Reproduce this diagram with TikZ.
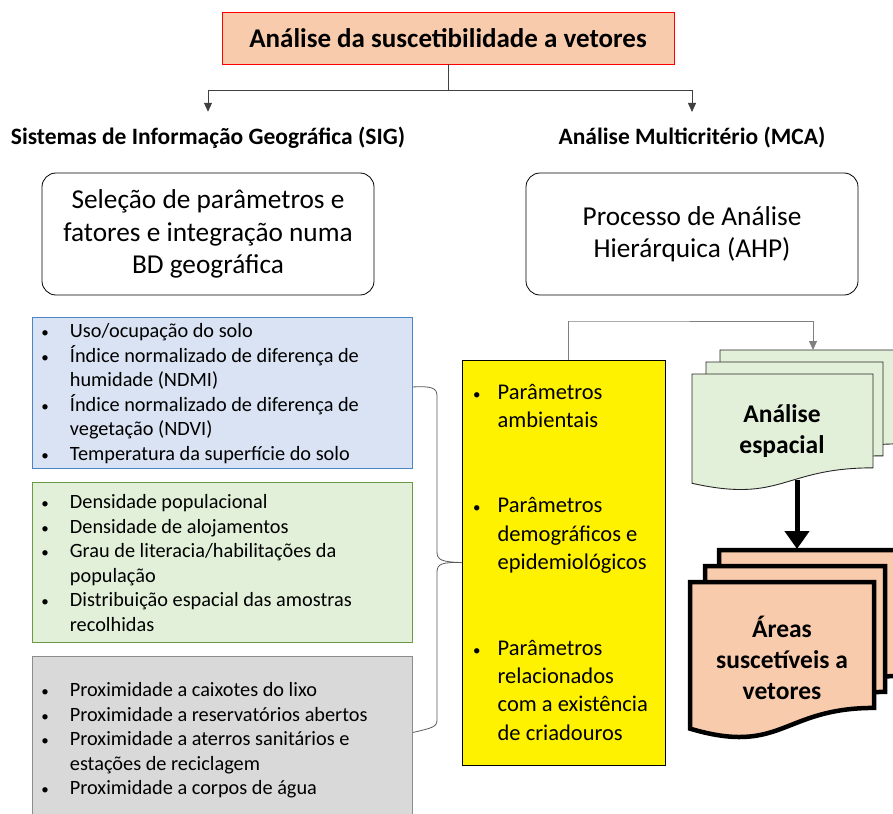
\documentclass[tikz,border=0pt]{standalone}
\usepackage{fontspec}
\setmainfont{Carlito}
\usepackage{xcolor}
\usepackage{tikz}
\usetikzlibrary{arrows.meta,positioning,calc}

\definecolor{peach}{HTML}{F8CBAD}
\definecolor{bluefill}{HTML}{DAE3F3}
\definecolor{blueline}{HTML}{4A86C6}
\definecolor{greenfill}{HTML}{E2F0D9}
\definecolor{greenline}{HTML}{6A9A45}
\definecolor{grayfill}{HTML}{D9D9D9}
\definecolor{grayline}{HTML}{8C8C8C}

% small list bullet
\newcommand{\bul}{{\fontsize{15}{15}\selectfont\textbullet}}

% document sheet (Office style): #1 style, #2 x, #3 y, #4 width, #5 height
\newcommand{\docsheet}[5]{%
  \filldraw[#1] (#2,#3) -- ++(#4,0) -- ++(0,{0.802*#5})
    .. controls ({#2+0.5*#4},{#3+0.802*#5}) and ({#2+0.5*#4},{#3+1.1075*#5})
    .. (#2,{#3+0.934*#5}) -- cycle;}

\begin{document}
\begin{tikzpicture}[
  x=1pt, y=-1pt,
  title/.style  = {rectangle, draw=red, fill=peach, line width=0.8pt,
                   minimum width=452pt, minimum height=52pt,
                   font=\fontsize{27}{30}\selectfont\bfseries},
  head/.style   = {font=\fontsize{23.5}{27}\selectfont\bfseries},
  rbox/.style   = {rectangle, rounded corners=14pt, draw=black, line width=0.8pt,
                   minimum width=332pt, minimum height=122pt, align=center,
                   font=\fontsize{27.3}{32.5}\selectfont},
  list/.style   = {rectangle, line width=0.9pt, minimum width=380pt,
                   anchor=north west, inner sep=0pt,
                   font=\fontsize{20.3}{24.5}\selectfont},
  ybox/.style   = {rectangle, draw=black, fill=yellow, line width=0.9pt,
                   minimum width=203pt, minimum height=405pt},
  ylist/.style  = {anchor=north west, inner sep=0pt, align=left,
                   font=\fontsize{22.5}{28.4}\selectfont},
  doctext/.style= {align=center, font=\fontsize{25.5}{31}\selectfont\bfseries},
  conn/.style   = {draw=black!75, line width=0.8pt},
  arr/.style    = {conn, -{Triangle[length=9pt,width=8pt]}},
  bigarr/.style = {draw=black, line width=5pt, -{Triangle[length=18pt,width=24pt]}}
]
\clip (0,0) rectangle (893,813);
\useasboundingbox (0,0) rectangle (893,813);

%% Title and branches
\node[title] (title) at (448,38) {Análise da suscetibilidade a vetores};
\node[head] (sig) at (208,138) {Sistemas de Informação Geográfica (SIG)};
\node[head] (mca) at (692,138) {Análise Multicritério (MCA)};
\coordinate (split) at (448,90);

\draw[conn] (title.south) -- (split);
\draw[arr] (split) -| ($(sig.north)+(0,-12)$);
\draw[arr] (split) -| ($(mca.north)+(0,-12)$);

%% Method boxes
\node[rbox] (selecao) at (208,234) {Seleção de parâmetros e\\fatores e integração numa\\BD geográfica};
\node[rbox] (ahp)     at (692,234) {Processo de Análise\\Hierárquica (AHP)};

%% Parameter lists
\node[list, draw=blueline, fill=bluefill, minimum height=151pt] (ambient) at (32,317) {};
\node[list, draw=greenline, fill=greenfill, minimum height=160pt] (demog) at (32,482) {};
\node[list, draw=grayline, fill=grayfill, minimum height=170pt] (criad) at (32,656) {};

\node[list, minimum width=0pt] (ambtxt) at (41,320) {%
  \begin{tabular}{@{}l@{\hspace{21pt}}l@{}}
  \bul & Uso/ocupação do solo\\
  \bul & Índice normalizado de diferença de\\
       & humidade (NDMI)\\
  \bul & Índice normalizado de diferença de\\
       & vegetação (NDVI)\\
  \bul & Temperatura da superfície do solo
  \end{tabular}};
\node[list, minimum width=0pt] (demtxt) at (41,491) {%
  \begin{tabular}{@{}l@{\hspace{21pt}}l@{}}
  \bul & Densidade populacional\\
  \bul & Densidade de alojamentos\\
  \bul & Grau de literacia/habilitações da\\
       & população\\
  \bul & Distribuição espacial das amostras\\
       & recolhidas
  \end{tabular}};
\node[list, minimum width=0pt] (critxt) at (41,679) {%
  \begin{tabular}{@{}l@{\hspace{21pt}}l@{}}
  \bul & Proximidade a caixotes do lixo\\
  \bul & Proximidade a reservatórios abertos\\
  \bul & Proximidade a aterros sanitários e\\
       & estações de reciclagem\\
  \bul & Proximidade a corpos de água
  \end{tabular}};

%% Parameter groups
\node[ybox] (grupos) at (563.5,562.5) {};
\node[ylist] (grptxt) at (473,379) {%
  \begin{tabular}{@{}l@{\hspace{17pt}}l@{}}
  \bul & Parâmetros\\
       & ambientais\\[57pt]
  \bul & Parâmetros\\
       & demográficos e\\
       & epidemiológicos\\[57pt]
  \bul & Parâmetros\\
       & relacionados\\
       & com a existência\\
       & de criadouros
  \end{tabular}};

%% Brace joining the lists
\draw[conn, draw=black!65] ($(ambient.east)+(0,-6)$) .. controls (432,386) and (437,388) .. (437,396)
  -- (437,552) .. controls (437,560) and (442,562) .. (grupos.west);
\draw[conn, draw=black!65] (grupos.west) .. controls (442,562) and (437,564) .. (437,572)
  -- (437,720) .. controls (437,727) and (432,728) .. ($(criad.east)+(0,-9)$);

%% Spatial analysis sheets
\docsheet{fill=greenfill, draw=black!85, line width=0.9pt}{720}{350}{181}{117}
\docsheet{fill=greenfill, draw=black!85, line width=0.9pt}{706}{362}{177}{117}
\docsheet{fill=greenfill, draw=black!85, line width=0.9pt}{692}{374}{181}{117}
\node[doctext] (espacial) at (782,431) {Análise\\espacial};
\coordinate (espin) at (813,350);
\coordinate (espout) at (797,480);

%% Result sheets
\docsheet{fill=peach, draw=black, line width=4.5pt}{719}{550}{183}{157}
\docsheet{fill=peach, draw=black, line width=4.5pt}{705}{566}{180}{157}
\docsheet{fill=peach, draw=black, line width=4.5pt}{690}{582}{184}{157}
\node[doctext] (areas) at (782,658) {Áreas\\suscetíveis a\\vetores};
\coordinate (areasin) at (797,549);

%% Connectors on the right
\draw[arr, draw=black!50] (grupos.north) ++(5,0) |- (568,321) -| (espin);
\draw[bigarr] (espout) -- (areasin);
\end{tikzpicture}
\end{document}
